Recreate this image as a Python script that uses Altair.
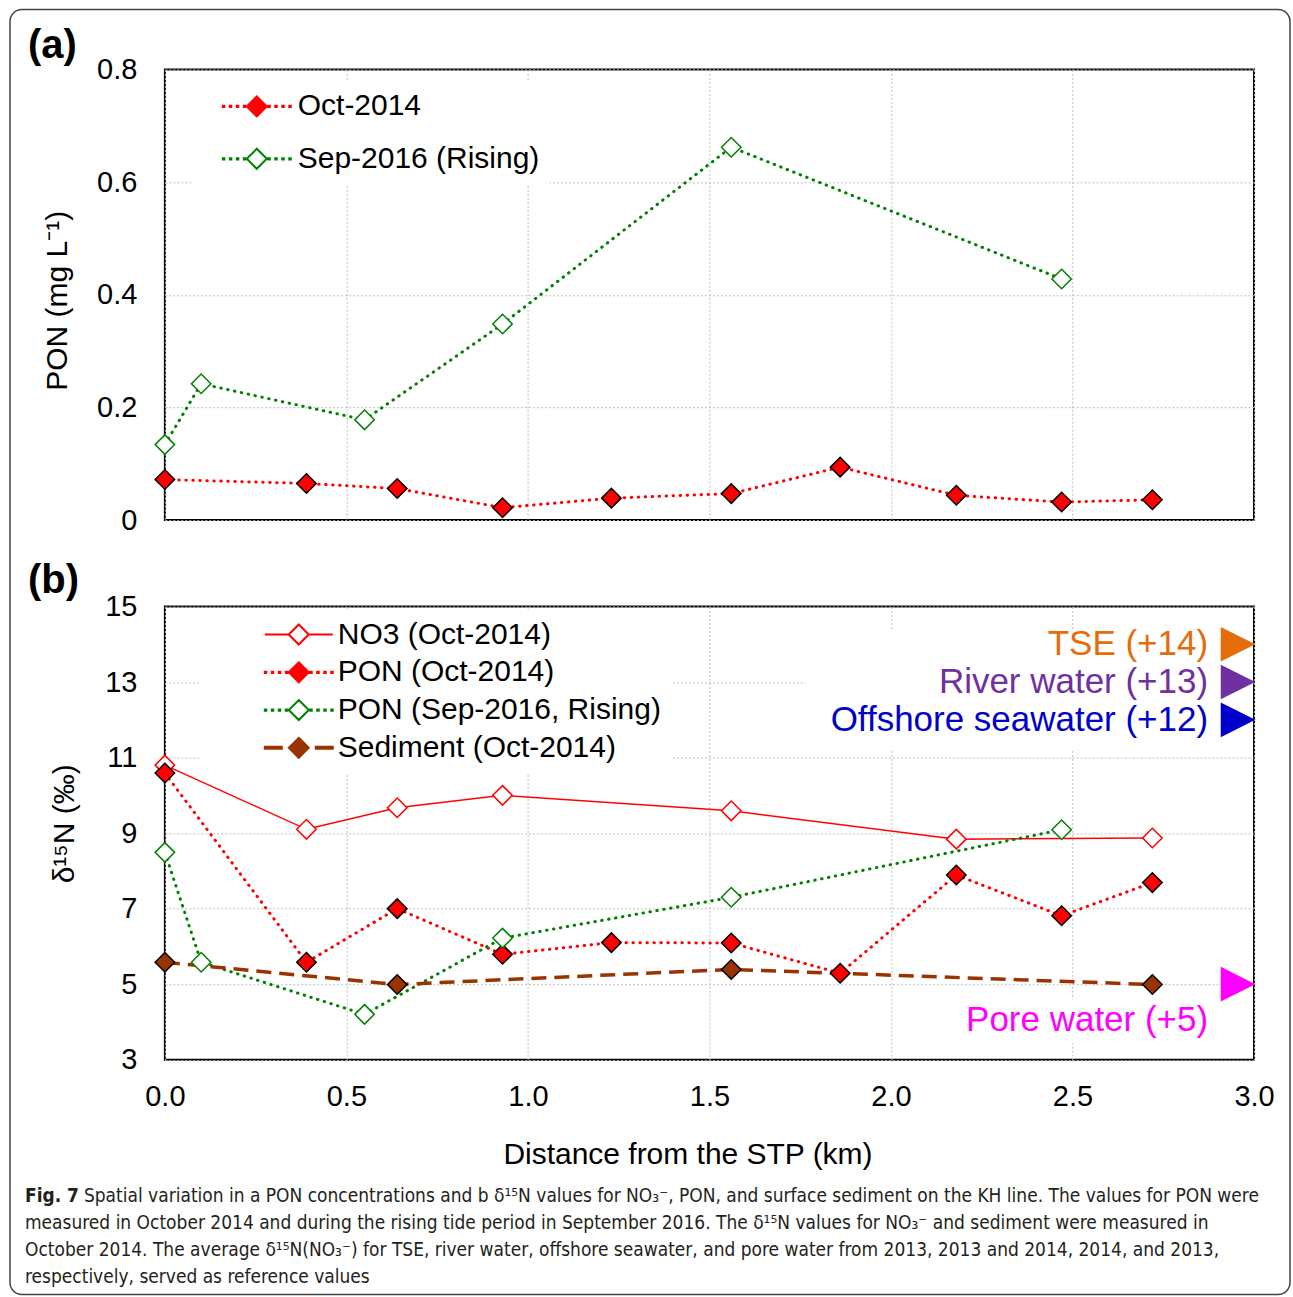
import altair as alt
import pandas as pd

# ---------------- values ----------------
# (a) PON concentration (mg L-1) along the KH line
km_oct2014 = [0.0, 0.39, 0.64, 0.93, 1.23, 1.56, 1.86, 2.18, 2.47, 2.72]
pon_oct2014 = [0.072, 0.065, 0.056, 0.022, 0.039, 0.047, 0.094, 0.044, 0.032, 0.036]
km_sep2016 = [0.0, 0.10, 0.55, 0.93, 1.56, 2.47]
pon_sep2016 = [0.134, 0.242, 0.178, 0.348, 0.662, 0.428]

# (b) d15N (permil)
km_no3 = [0.0, 0.39, 0.64, 0.93, 1.56, 2.18, 2.72]
d15n_no3 = [10.80, 9.10, 9.67, 10.00, 9.59, 8.84, 8.87]
d15n_pon_oct2014 = [10.59, 5.58, 7.00, 5.79, 6.10, 6.09, 5.29, 7.89, 6.81, 7.69]
d15n_pon_sep2016 = [8.49, 5.58, 4.20, 6.22, 7.30, 9.09]
km_sediment = [0.0, 0.64, 1.56, 2.72]
d15n_sediment = [5.58, 4.99, 5.39, 4.99]

ref_labels = ["TSE (+14)", "River water (+13)", "Offshore seawater (+12)", "Pore water (+5)"]
ref_values = [14, 13, 12, 5]

legend_a = ["Oct-2014", "Sep-2016 (Rising)"]
legend_b = ["NO3 (Oct-2014)", "PON (Oct-2014)", "PON (Sep-2016, Rising)", "Sediment (Oct-2014)"]

x_ticks = [0.0, 0.5, 1.0, 1.5, 2.0, 2.5, 3.0]
ya_ticks = [0.0, 0.2, 0.4, 0.6, 0.8]
yb_ticks = [3, 5, 7, 9, 11, 13, 15]

caption_bold = "Fig. 7"
caption_lines = [
    "Spatial variation in a PON concentrations and b \u03b4\u00b9\u2075N values for NO\u2083\u207b, PON, and surface sediment on the KH line. The values for PON were",
    "measured in October 2014 and during the rising tide period in September 2016. The \u03b4\u00b9\u2075N values for NO\u2083\u207b and sediment were measured in",
    "October 2014. The average \u03b4\u00b9\u2075N(NO\u2083\u207b) for TSE, river water, offshore seawater, and pore water from 2013, 2013 and 2014, 2014, and 2013,",
    "respectively, served as reference values",
]

# ---------------- styles ----------------
FONT = "Liberation Sans"
CAP_FONT = "Liberation Sans Narrow, DejaVu Sans Condensed, Roboto, sans-serif"
RED, GREEN, BROWN = "#ff0000", "#008000", "#993300"
REF_COLORS = ["#e46c0a", "#7030a0", "#0000cc", "#ff00ff"]
W = 1090
HA, HB = 451, 453.5
DOT = dict(strokeDash=[0.5, 6.5], strokeCap="round", strokeWidth=3)
GRID = dict(grid=True, gridColor="#bdbdbd", gridDash=[2, 2], gridWidth=1)

# legend symbol paths (unit = sqrt(symbolSize)/2)
DIAMOND = "M0,-1L1,0L0,1L-1,0Z"
def dots():
    xs = [-3.4, -2.7, -2.0, -1.3, 1.15, 1.85, 2.55, 3.25]
    return "".join(f"M{x},-0.06h0.15v0.12h-0.15Z" for x in xs)
P_SOLID = "M-3.4,0H-1M1,0H3.4" + DIAMOND
P_DOT = dots() + DIAMOND
P_DASH = "M-3.4,-0.1h1.7v0.2h-1.7ZM1.7,-0.1h1.7v0.2h-1.7Z" + DIAMOND


def X(show):
    kw = dict(values=x_ticks, format=".1f", ticks=False, domain=False, labels=show,
              labelFontSize=29, labelPadding=23, labelFlush=False, labelOverlap=False, **GRID)
    if show:
        kw.update(title="Distance from the STP (km)", titleFontSize=30, titleX=523, titleY=95,
                  titleBaseline="middle", titleAlign="center")
    else:
        kw.update(title=None)
    return alt.X("km:Q", scale=alt.Scale(domain=[0, 3], nice=False, zero=False), axis=alt.Axis(**kw))


def Y(domain, ticks, title, tx, ty, expr=None):
    kw = dict(values=ticks, ticks=False, domain=False, labelFontSize=29, labelPadding=28,
              labelFlush=False, labelOverlap=False, title=title, titleFontSize=30,
              titleX=tx, titleY=ty, titleAngle=-90, titleBaseline="middle", titleAlign="center", **GRID)
    if expr:
        kw["labelExpr"] = expr
    return alt.Y("val:Q", scale=alt.Scale(domain=domain, nice=False, zero=False), axis=alt.Axis(**kw))


def series(km, vals, x_, y_, line_style, fill, stroke):
    df = pd.DataFrame({"km": km, "val": vals})
    base = alt.Chart(df).encode(x=x_, y=y_)
    line = base.mark_line(**line_style)
    pts = base.mark_point(shape="diamond", size=380, filled=True, fill=fill, stroke=stroke,
                          strokeWidth=1.5, opacity=1)
    return line, pts


def legend_layer(field, names, paths, fills, strokes, x_, y_, lx, ly, row_pad, sym_off, lab_off):
    df = pd.DataFrame({field: names, "km": [None] * len(names), "val": [None] * len(names)})
    lg = alt.Legend(title=None, orient="none", legendX=lx, legendY=ly, fillColor="white", padding=10,
                    labelFont=FONT, labelFontSize=30, labelColor="black", labelLimit=800,
                    symbolSize=400, symbolStrokeWidth=2, symbolOpacity=1, rowPadding=row_pad,
                    symbolOffset=sym_off, labelOffset=lab_off)
    return alt.Chart(df).mark_point(opacity=1, filled=True).encode(
        x=x_, y=y_,
        shape=alt.Shape(f"{field}:N", scale=alt.Scale(domain=names, range=paths), legend=lg),
        fill=alt.Fill(f"{field}:N", scale=alt.Scale(domain=names, range=fills), legend=lg),
        stroke=alt.Stroke(f"{field}:N", scale=alt.Scale(domain=names, range=strokes), legend=lg),
    )


def text_at(txt, x, y, **kw):
    return alt.Chart(pd.DataFrame({"t": [txt]})).mark_text(align="left", baseline="middle", **kw).encode(
        x=alt.value(x), y=alt.value(y), text="t:N")


# ---------------- panel (a) ----------------
xa = X(False)
ya = Y([0, 0.8], ya_ticks, "PON (mg L\u207b\u00b9)", -107, 231,
       "datum.value == 0 ? '0' : format(datum.value, '.1f')")
la1, pa1 = series(km_oct2014, pon_oct2014, xa, ya, dict(color=RED, **DOT), RED, "black")
la2, pa2 = series(km_sep2016, pon_sep2016, xa, ya, dict(color=GREEN, **DOT), "white", GREEN)
leg_a = legend_layer("entry_a", legend_a, [P_DOT, P_DOT], [RED, "white"], [RED, GREEN], xa, ya,
                     28, 12, 22.4, 39, 26)
frame = alt.Chart(pd.DataFrame({"f": [0]})).mark_rect(
    fill="transparent", stroke="#444444", strokeWidth=1.5, cornerRadius=12
).encode(x=alt.value(-155), x2=alt.value(1126), y=alt.value(-60), y2=alt.value(1226))
tag_a = text_at("(a)", -137, -23, font=FONT, fontSize=40, fontWeight="bold", color="black")

panel_a = alt.layer(frame, la2, la1, pa2, pa1, leg_a, tag_a).properties(width=W, height=HA)

# ---------------- panel (b) ----------------
xb = X(True)
yb = Y([3, 15], yb_ticks, "\u03b4\u00b9\u2075N (\u2030)", -100, 217)
lb1, pb1 = series(km_no3, d15n_no3, xb, yb, dict(color=RED, strokeWidth=1.5), "white", RED)
lb2, pb2 = series(km_oct2014, d15n_pon_oct2014, xb, yb, dict(color=RED, **DOT), RED, "black")
lb3, pb3 = series(km_sep2016, d15n_pon_sep2016, xb, yb, dict(color=GREEN, **DOT), "white", GREEN)
lb4, pb4 = series(km_sediment, d15n_sediment, xb, yb,
                  dict(color=BROWN, strokeWidth=3.5, strokeDash=[15, 8]), BROWN, "black")
leg_b = legend_layer("entry_b", legend_b, [P_SOLID, P_DOT, P_DOT, P_DASH],
                     ["white", RED, "white", BROWN], [RED, RED, GREEN, BROWN], xb, yb,
                     35, 3, 7.8, 74, 24)

refs = pd.DataFrame({"ref": ref_labels, "val": ref_values, "km": [x_ticks[-1]] * len(ref_labels)})
ref_color = alt.Color("ref:N", scale=alt.Scale(domain=ref_labels, range=REF_COLORS), legend=None)
ref_base = alt.Chart(refs).encode(x=xb, y=yb, color=ref_color)
ref_arrows = ref_base.mark_point(shape="M-1,-1L1,0L-1,1Z", size=1200, filled=True, opacity=1, xOffset=-16)
ref_text_hi = ref_base.transform_filter("datum.val > 10").mark_text(
    align="right", baseline="middle", dx=-46, fontSize=35, font=FONT).encode(text="ref:N")
ref_text_lo = ref_base.transform_filter("datum.val <= 10").mark_text(
    align="right", baseline="middle", dx=-46, dy=36, fontSize=35, font=FONT).encode(text="ref:N")

box_hi = alt.Chart(pd.DataFrame({"b": [0]})).mark_rect(fill="white").encode(
    x=alt.value(641), x2=alt.value(1089), y=alt.value(23.5), y2=alt.value(144.5))
box_lo = alt.Chart(pd.DataFrame({"b": [0]})).mark_rect(fill="white").encode(
    x=alt.value(795), x2=alt.value(1050), y=alt.value(393), y2=alt.value(437))
tag_b = text_at("(b)", -137, -25.5, font=FONT, fontSize=40, fontWeight="bold", color="black")

cap_kw = dict(font=CAP_FONT, fontSize=19, color="#231f20")
captions = [text_at(caption_bold, -140, 589.5, fontWeight="bold", **cap_kw),
            text_at(caption_lines[0], -81, 589.5, **cap_kw)]
for i, line in enumerate(caption_lines[1:]):
    captions.append(text_at(line, -140, 616.5 + 27 * i, **cap_kw))

panel_b = alt.layer(box_hi, box_lo, lb1, lb2, lb3, lb4, pb1, pb2, pb3, pb4, leg_b,
                    ref_arrows, ref_text_hi, ref_text_lo, tag_b, *captions).properties(
    width=W, height=HB)

chart = alt.vconcat(panel_a, panel_b, spacing=86.5, bounds="flush").resolve_scale(
    shape="independent", fill="independent", stroke="independent", color="independent"
).resolve_legend(
    shape="independent", fill="independent", stroke="independent", color="independent"
).properties(
    padding={"left": 8, "top": 7, "right": 1, "bottom": 0}
).configure_view(stroke="black", strokeWidth=2).configure_axis(
    labelFont=FONT, titleFont=FONT, labelColor="black", titleColor="black", titleFontWeight="normal"
)

chart.save("out.html", embed_options={"renderer": "svg", "actions": False})
